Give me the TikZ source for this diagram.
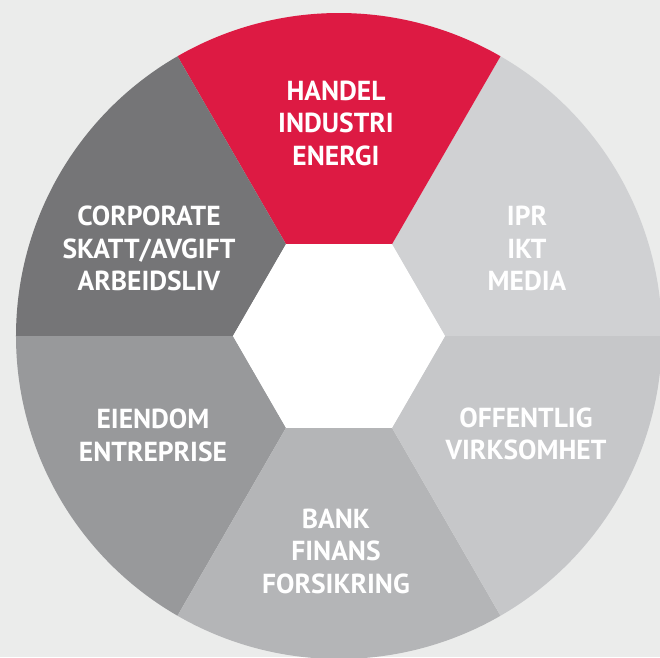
\documentclass[tikz,border=0pt]{standalone}
\usepackage{fontspec}
\setmainfont{PT Sans}
\usepackage{xcolor}
\usepackage{tikz}

\definecolor{bggray}{RGB}{235,236,235}
\definecolor{handelred}{RGB}{221,26,67}
\definecolor{corpgray}{RGB}{117,117,119}
\definecolor{iprgray}{RGB}{208,209,211}
\definecolor{offgray}{RGB}{198,199,201}
\definecolor{bankgray}{RGB}{180,181,183}
\definecolor{eiendomgray}{RGB}{152,153,155}

\begin{document}
\begin{tikzpicture}[font=\fontsize{27.5}{32.5}\selectfont\bfseries,
  field/.style={text=white, align=center, inner sep=0pt}]
  \fill[bggray] (-339pt,-321pt) rectangle (321pt,336pt);
  \useasboundingbox (-339pt,-321pt) rectangle (321pt,336pt);
  \clip (-339pt,-321pt) rectangle (321pt,336pt);
  % six fields round the hexagon
  \foreach \a/\col in {0/iprgray, 60/handelred, 120/corpgray, 180/eiendomgray, 240/bankgray, 300/offgray}{
    \fill[\col] (\a:106pt) -- (\a:323pt) arc[start angle=\a, delta angle=60, radius=323pt] -- (\a+60:106pt) -- cycle;}
  \fill[white] (0:106pt) \foreach \a in {60,120,...,300}{ -- (\a:106pt)} -- cycle;
  \node[field] (handel) at (-3pt,213pt) {HANDEL\\INDUSTRI\\ENERGI};
  \node[field] (corporate) at (-190pt,87.5pt) {CORPORATE\\SKATT/AVGIFT\\ARBEIDSLIV};
  \node[field] (ipr) at (188pt,87.5pt) {IPR\\IKT\\MEDIA};
  \node[field] (eiendom) at (-186pt,-99.5pt) {EIENDOM\\ENTREPRISE};
  \node[field] (offentlig) at (187pt,-98pt) {OFFENTLIG\\VIRKSOMHET};
  \node[field] (bank) at (-3pt,-215pt) {BANK\\FINANS\\FORSIKRING};
\end{tikzpicture}
\end{document}
